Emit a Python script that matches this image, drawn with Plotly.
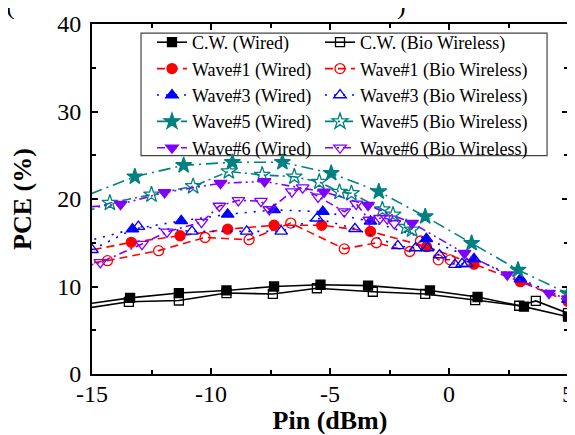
import plotly.graph_objects as go

# ---------------- data ----------------
cw_wired_x = [-16, -13.4, -11.35, -9.35, -7.35, -5.4, -3.4, -0.8, 1.2, 3.15, 5.0]
cw_wired_y = [7.7, 8.7, 9.25, 9.55, 10.0, 10.2, 10.1, 9.55, 8.8, 7.7, 6.55]

cw_bio_x = [-16, -13.45, -11.35, -9.35, -7.4, -5.55, -3.2, -1.0, 1.1, 2.95, 3.65, 5.0]
cw_bio_y = [7.2, 8.25, 8.4, 9.25, 9.15, 9.8, 9.4, 9.15, 8.45, 7.8, 8.35, 6.95]

w1_wired_x = [-16, -13.35, -11.3, -9.3, -7.35, -5.35, -3.3, -0.95, 1.05, 3.0, 5.0]
w1_wired_y = [13.65, 15.05, 15.8, 16.55, 17.0, 17.0, 16.3, 14.55, 12.55, 10.55, 8.3]

w1_bio_x = [-16, -14.35, -12.2, -10.25, -8.4, -6.65, -4.4, -3.05, -1.65, -1.2, -0.45, 0.05]
w1_bio_y = [12.3, 12.95, 14.1, 15.6, 15.35, 17.25, 14.3, 15.0, 14.0, 15.2, 13.05, 13.05]

w3_wired_x = [-16, -13.3, -11.25, -9.3, -7.35, -5.3, -3.3, -0.95, 1.05, 3.0, 5.0]
w3_wired_y = [14.6, 16.55, 17.5, 18.25, 18.75, 18.55, 17.45, 15.45, 13.15, 10.85, 8.5]

w3_bio_x = [-15.0, -13.05, -10.8, -8.5, -7.05, -5.55, -3.95, -2.15, -1.4, -0.9, -0.4, 0.25, 0.55, 0.75]
w3_bio_y = [14.2, 16.85, 16.3, 16.3, 16.3, 17.8, 16.6, 14.65, 14.4, 14.4, 13.6, 12.5, 12.6, 12.6]

w5_wired_x = [-16, -13.2, -11.15, -9.1, -7.0, -4.95, -2.95, -1.0, 0.95, 2.9, 5.0]
w5_wired_y = [19.6, 22.55, 23.85, 24.2, 24.2, 22.95, 20.85, 18.0, 14.95, 11.9, 9.2]

w5_bio_x = [-16, -14.25, -12.5, -10.75, -9.25, -7.85, -6.5, -5.45, -4.6, -4.1, -2.8, -2.35, -1.8, -1.55]
w5_bio_y = [17.8, 19.55, 20.5, 21.45, 23.15, 22.75, 22.55, 21.95, 20.8, 20.65, 18.8, 18.2, 16.8, 16.5]

w6_wired_x = [-16, -13.8, -11.95, -9.6, -7.75, -5.25, -3.4, -1.55, 0.65, 2.45, 4.2, 5.0]
w6_wired_y = [18.9, 19.4, 20.75, 21.8, 22.0, 20.8, 19.3, 17.25, 13.8, 11.35, 9.25, 8.6]

w6_bio_x = [-16, -14.65, -12.9, -11.85, -10.4, -9.65, -8.85, -7.9, -7.55, -6.6, -6.15, -5.5,
            -4.4, -3.9, -3.35, -2.9, -2.6, -2.3]
w6_bio_y = [11.8, 12.75, 14.85, 16.25, 17.35, 19.2, 19.85, 19.75, 18.8, 20.85, 21.3, 20.25,
            18.55, 19.45, 17.6, 17.8, 17.75, 17.2]

x_ticks = [-15, -10, -5, 0, 5]
y_ticks = [0, 10, 20, 30, 40]

# ---------------- styling ----------------
BLACK = "#000000"
RED = "#FF0000"
BLUE = "#0000FF"
TEAL = "#008080"
PURPLE = "#8000FF"
FONT = "Liberation Serif"

series = [
    ("C.W. (Wired)", cw_wired_x, cw_wired_y, BLACK, "solid", "square", 9, "legend"),
    ("C.W. (Bio Wireless)", cw_bio_x, cw_bio_y, BLACK, "solid", "square-open", 9, "legend2"),
    ("Wave#1 (Wired)", w1_wired_x, w1_wired_y, RED, "8px,5px", "circle", 10, "legend"),
    ("Wave#1 (Bio Wireless)", w1_bio_x, w1_bio_y, RED, "8px,5px", "circle-open", 10, "legend2"),
    ("Wave#3 (Wired)", w3_wired_x, w3_wired_y, BLUE, "2px,7px", "triangle-up", 11, "legend"),
    ("Wave#3 (Bio Wireless)", w3_bio_x, w3_bio_y, BLUE, "2px,7px", "triangle-up-open", 11, "legend2"),
    ("Wave#5 (Wired)", w5_wired_x, w5_wired_y, TEAL, "12px,5px,2px,5px", "star", 12, "legend"),
    ("Wave#5 (Bio Wireless)", w5_bio_x, w5_bio_y, TEAL, "9px,4px,2px,4px", "star-open", 12, "legend2"),
    ("Wave#6 (Wired)", w6_wired_x, w6_wired_y, PURPLE, "8px,4px,2px,4px,2px,4px", "triangle-down", 11, "legend"),
    ("Wave#6 (Bio Wireless)", w6_bio_x, w6_bio_y, PURPLE, "8px,4px,2px,4px", "triangle-down-open", 11, "legend2"),
]

fig = go.Figure()
for name, xs, ys, col, dash, sym, size, leg in series:
    fig.add_trace(go.Scatter(
        x=xs, y=ys, name=name, mode="lines+markers", legend=leg,
        line=dict(color=col, width=1.6, dash=dash),
        marker=dict(symbol=sym, size=size, color=col,
                    line=dict(color=col, width=1.3)),
        cliponaxis=True,
    ))

axis_common = dict(
    showline=True, linecolor="black", linewidth=2, mirror="ticks",
    ticks="inside", ticklen=6, tickwidth=1.5, tickcolor="black",
    showgrid=False, zeroline=False, automargin=False,
    tickfont=dict(family=FONT, size=24, color="black"),
)

fig.update_xaxes(
    range=[-15, 5], tickvals=x_ticks, ticktext=[str(v) for v in x_ticks],
    minor=dict(ticks="inside", ticklen=4, tickwidth=1.5, tickcolor="black", dtick=2.5, tick0=-15),
    title=dict(text="<b>Pin (dBm)</b>", font=dict(family=FONT, size=26, color="black"), standoff=0),
    ticklabelstandoff=-3,
    **axis_common,
)
fig.update_yaxes(
    range=[0, 40], tickvals=y_ticks, ticktext=[str(v) for v in y_ticks],
    minor=dict(ticks="inside", ticklen=4, tickwidth=1.5, tickcolor="black", dtick=5, tick0=0),
    title=dict(text="<b>PCE (%)</b>", font=dict(family=FONT, size=26, color="black"), standoff=18),
    ticklabelstandoff=4,
    **axis_common,
)

legend_common = dict(
    orientation="v", xanchor="left", yanchor="top",
    bgcolor="rgba(0,0,0,0)", borderwidth=0,
    font=dict(family=FONT, size=18, color="black"),
    traceorder="normal", itemwidth=30, tracegroupgap=0,
)

# page body has an 8px margin, so the figure is sized to fit the 575x435 window
fig.update_layout(
    width=567, height=427,
    margin=dict(l=84, r=7, t=16, b=61),
    paper_bgcolor="white", plot_bgcolor="white",
    font=dict(family=FONT, color="black"),
    legend=dict(x=0.126, y=1.0, **legend_common),
    legend2=dict(x=0.479, y=1.0, **legend_common),
    shapes=[
        dict(type="rect", xref="paper", yref="paper",
             x0=0.103, x1=0.956, y0=0.624, y1=0.974,
             line=dict(color="#444444", width=1.2), fillcolor="white", layer="below"),
    ],
    annotations=[
        dict(text="(", xref="paper", yref="paper", x=-0.172, y=1.007,
             xanchor="center", yanchor="bottom", showarrow=False,
             font=dict(family=FONT, size=26, color="black")),
        dict(text=")", xref="paper", yref="paper", x=0.651, y=1.007,
             xanchor="center", yanchor="bottom", showarrow=False,
             font=dict(family=FONT, size=26, color="black")),
    ],
)

fig.write_html("out.html")
